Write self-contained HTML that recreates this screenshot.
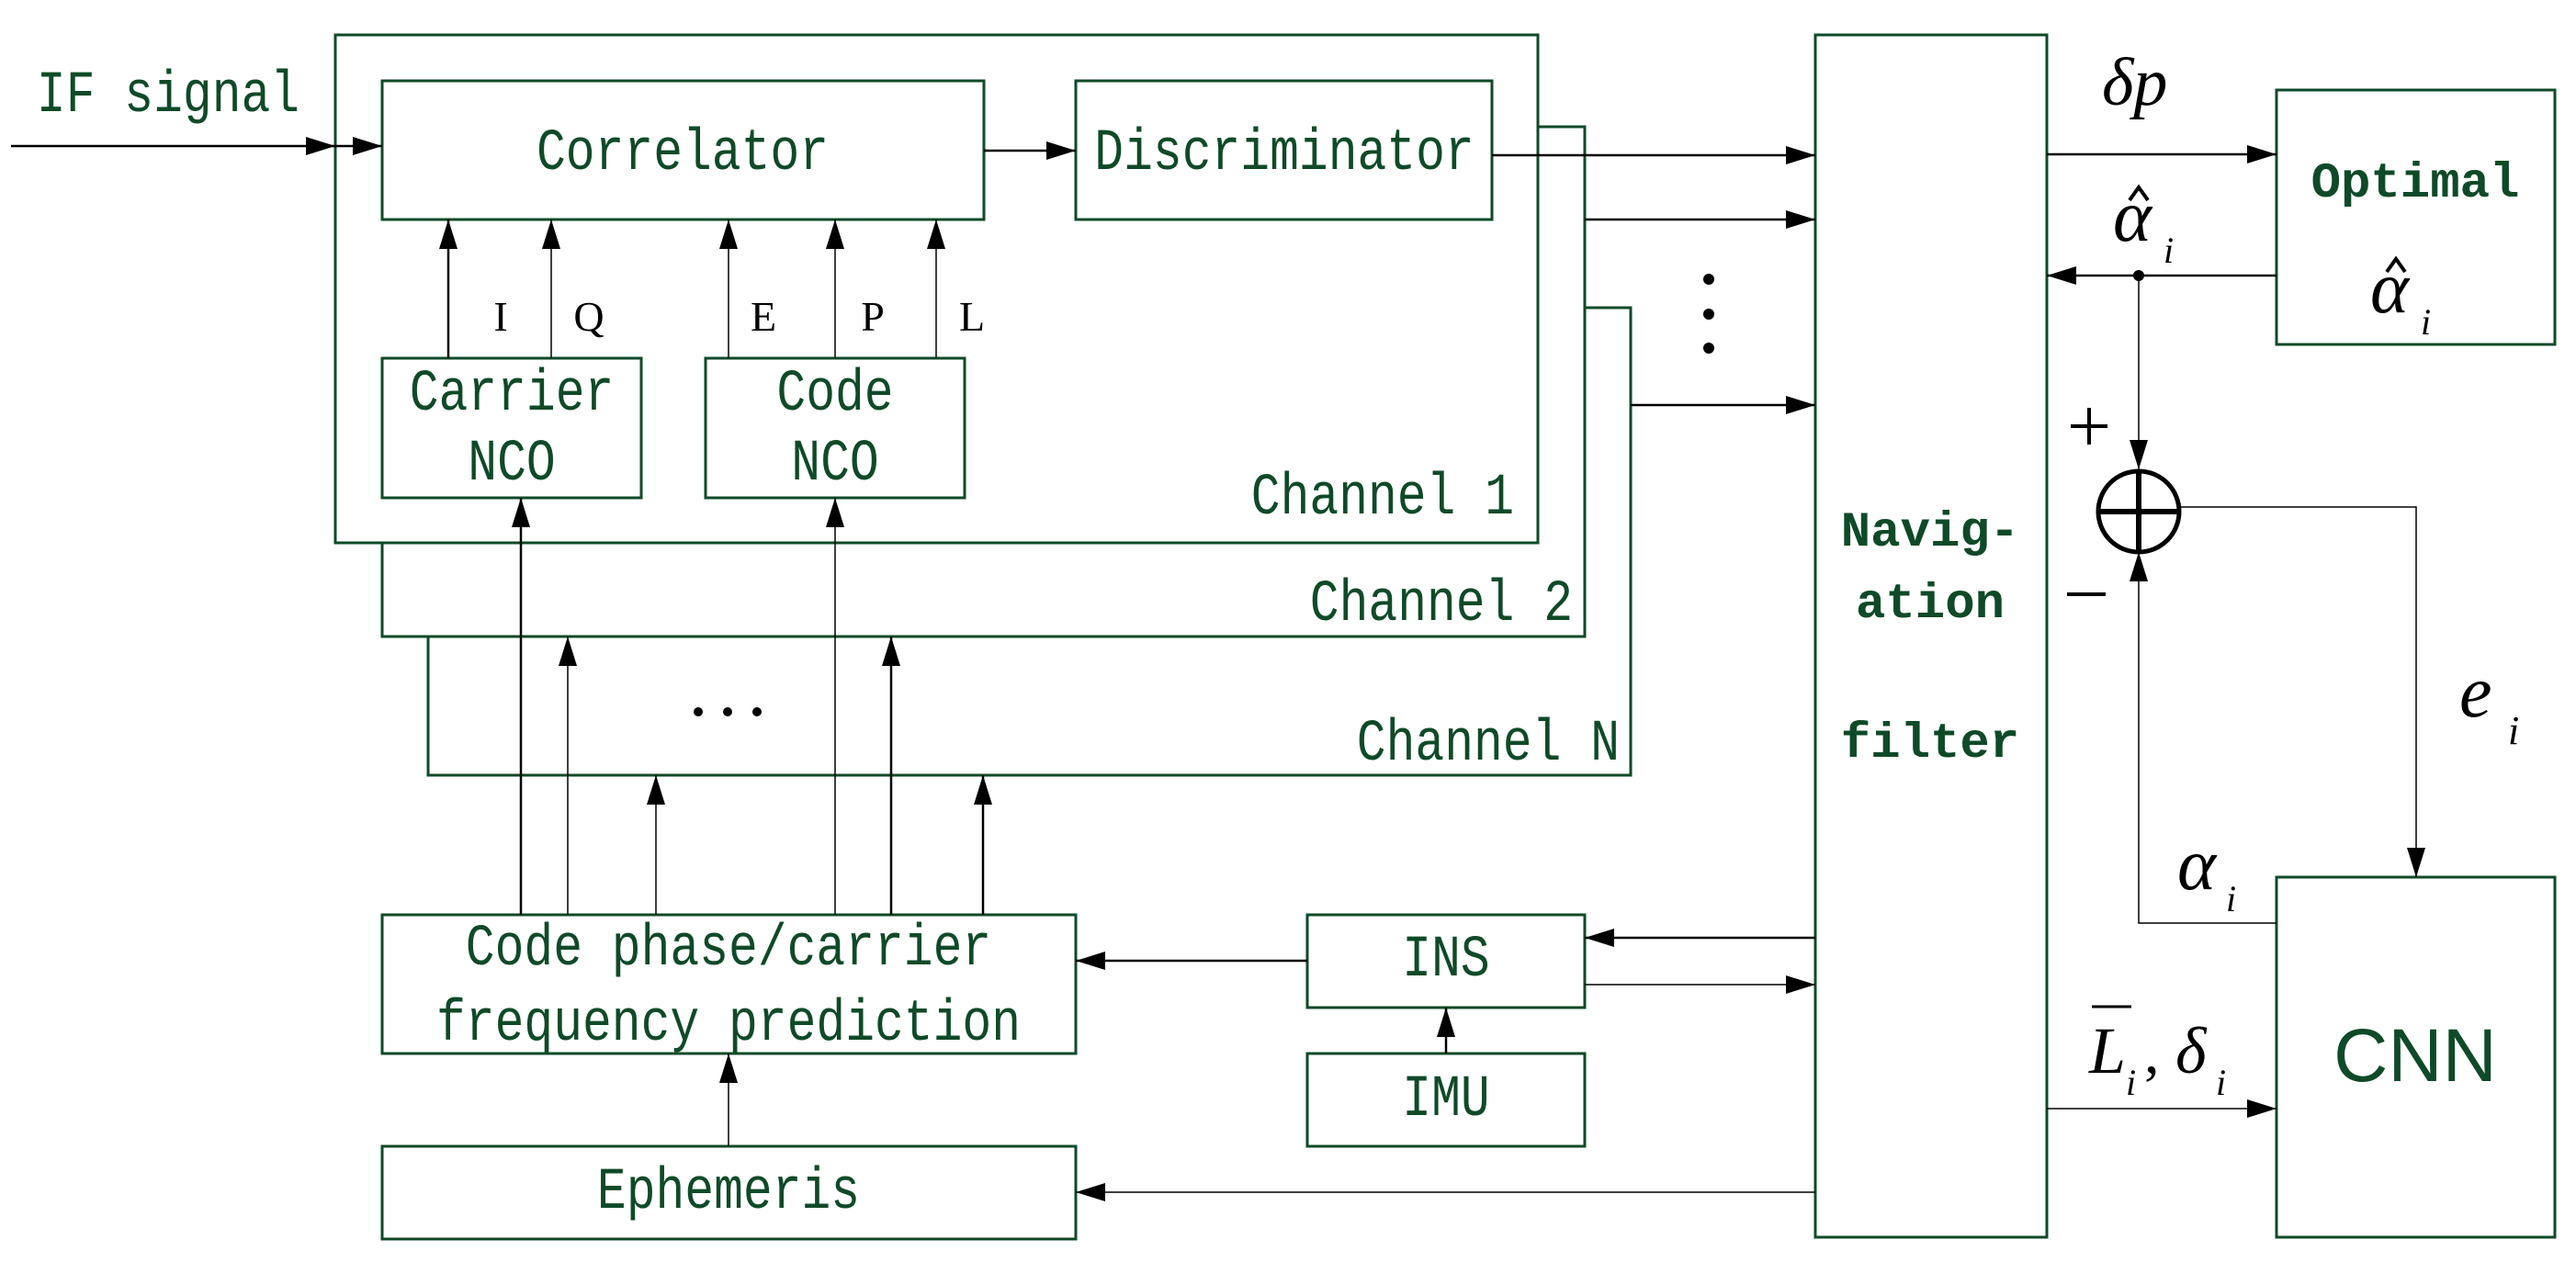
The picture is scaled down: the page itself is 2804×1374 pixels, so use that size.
<!DOCTYPE html>
<html><head><meta charset="utf-8"><style>
html,body{margin:0;padding:0;background:#fff}
svg{display:block}
.g{font-family:"Liberation Mono",monospace;fill:#0f4a28;font-size:53px}
.b{font-family:"Liberation Mono",monospace;fill:#0f4a28;font-size:54px;font-weight:bold}
.s{font-family:"Liberation Serif",serif;fill:#000;font-size:46px}
.m{font-family:"Liberation Serif",serif;font-style:italic;fill:#000}
</style></head><body>
<svg width="2804" height="1374" viewBox="0 0 2804 1374" xmlns="http://www.w3.org/2000/svg">
<defs>
<marker id="a" markerWidth="32" markerHeight="20" refX="32" refY="10" orient="auto" markerUnits="userSpaceOnUse"><path d="M0,0 L32,10 L0,20 z" fill="#000"/></marker>
</defs>
<g fill="none" stroke="#0f4a28" stroke-width="3">
<rect x="365" y="38" width="1309" height="553"/>
<path d="M1674,138 H1725 V693 H416 V591"/>
<path d="M1725,335 H1775 V844 H466 V693"/>
<rect x="416" y="88" width="655" height="151"/>
<rect x="1171" y="88" width="453" height="151"/>
<rect x="416" y="390" width="282" height="152"/>
<rect x="768" y="390" width="282" height="152"/>
<rect x="1976" y="38" width="252" height="1309"/>
<rect x="2478" y="98" width="303" height="277"/>
<rect x="2478" y="955" width="303" height="392"/>
<rect x="416" y="996" width="755" height="151"/>
<rect x="1423" y="996" width="302" height="101"/>
<rect x="1423" y="1147" width="302" height="101"/>
<rect x="416" y="1248" width="755" height="101"/>
</g>
<g stroke="#000" stroke-width="2.5" fill="none" marker-end="url(#a)">
<line x1="12" y1="159" x2="365" y2="159"/>
<line x1="365" y1="159" x2="416" y2="159"/>
<line x1="1071" y1="164" x2="1171" y2="164"/>
<line x1="1624" y1="169" x2="1976" y2="169"/>
<line x1="1725" y1="239" x2="1976" y2="239"/>
<line x1="1775" y1="441" x2="1976" y2="441"/>
<line x1="488" y1="390" x2="488" y2="239"/>
<line x1="600" y1="390" x2="600" y2="239" stroke-width="1.5"/>
<line x1="793" y1="390" x2="793" y2="239" stroke-width="1.5"/>
<line x1="909" y1="390" x2="909" y2="239" stroke-width="1.5"/>
<line x1="1019" y1="390" x2="1019" y2="239" stroke-width="1.5"/>
<line x1="567" y1="996" x2="567" y2="542"/>
<line x1="618" y1="996" x2="618" y2="693" stroke-width="1.5"/>
<line x1="714" y1="996" x2="714" y2="844" stroke-width="1.5"/>
<line x1="909" y1="996" x2="909" y2="542" stroke-width="1.5"/>
<line x1="970" y1="996" x2="970" y2="693"/>
<line x1="1070" y1="996" x2="1070" y2="844"/>
<line x1="1423" y1="1046" x2="1171" y2="1046"/>
<line x1="1976" y1="1021" x2="1725" y2="1021"/>
<line x1="1725" y1="1072" x2="1976" y2="1072" stroke-width="1.5"/>
<line x1="1574" y1="1147" x2="1574" y2="1097"/>
<line x1="793" y1="1248" x2="793" y2="1147" stroke-width="1.5"/>
<line x1="1976" y1="1298" x2="1171" y2="1298" stroke-width="1.5"/>
<line x1="2228" y1="168" x2="2478" y2="168"/>
<line x1="2478" y1="300" x2="2228" y2="300"/>
<line x1="2328" y1="300" x2="2328" y2="511" stroke-width="1.5"/>
<polyline points="2372,552 2630,552 2630,955" stroke-width="1.5"/>
<polyline points="2478,1005 2328,1005 2328,601" stroke-width="1.5"/>
<line x1="2228" y1="1207" x2="2478" y2="1207" stroke-width="1.5"/>
</g>
<circle cx="2328" cy="300" r="6" fill="#000"/>
<circle cx="2328" cy="557" r="44" fill="none" stroke="#000" stroke-width="5"/>
<line x1="2286" y1="557" x2="2370" y2="557" stroke="#000" stroke-width="6"/>
<line x1="2328" y1="515" x2="2328" y2="599" stroke="#000" stroke-width="6"/>
<g fill="#000">
<circle cx="1860" cy="304" r="6"/><circle cx="1860" cy="342" r="6"/><circle cx="1860" cy="379" r="6"/>
<circle cx="760" cy="775" r="5"/><circle cx="792" cy="775" r="5"/><circle cx="824" cy="775" r="5"/>
</g>
<g class="g" text-anchor="middle">
<text transform="translate(183,121) scale(1,1.2)">IF signal</text>
<text transform="translate(743,184) scale(1,1.2)">Correlator</text>
<text transform="translate(1398,184) scale(1,1.2)">Discriminator</text>
<text transform="translate(557,446) scale(1,1.2)">Carrier</text>
<text transform="translate(557,522) scale(1,1.2)">NCO</text>
<text transform="translate(909,446) scale(1,1.2)">Code</text>
<text transform="translate(909,522) scale(1,1.2)">NCO</text>
<text transform="translate(793,1050) scale(1,1.2)">Code phase/carrier</text>
<text transform="translate(793,1132) scale(1,1.2)">frequency prediction</text>
<text transform="translate(1574,1062) scale(1,1.2)">INS</text>
<text transform="translate(1574,1214) scale(1,1.2)">IMU</text>
<text transform="translate(793,1315) scale(1,1.2)">Ephemeris</text>
</g>
<g class="g" text-anchor="end">
<text transform="translate(1648,559) scale(1,1.2)">Channel 1</text>
<text transform="translate(1712,675) scale(1,1.2)">Channel 2</text>
<text transform="translate(1763,827) scale(1,1.2)">Channel N</text>
</g>
<g class="b" text-anchor="middle">
<text x="2101" y="594">Navig-</text>
<text x="2101" y="672">ation</text>
<text x="2101" y="824">filter</text>
<text x="2629" y="214">Optimal</text>
</g>
<text x="2629" y="1177" text-anchor="middle" font-family="Liberation Sans,sans-serif" font-size="82" fill="#0f4a28">CNN</text>
<g class="s" text-anchor="middle">
<text x="545" y="360">I</text><text x="641" y="360">Q</text>
<text x="831" y="360">E</text><text x="950" y="360">P</text><text x="1058" y="360">L</text>
</g>
<g class="m">
<text x="2288" y="114" font-size="74">δp</text>
<text x="2300" y="262" font-size="80">α</text><text x="2355" y="286" font-size="40">i</text>
<text x="2580" y="340" font-size="80">α</text><text x="2635" y="364" font-size="40">i</text>
<text x="2677" y="780" font-size="80">e</text><text x="2730" y="810" font-size="44">i</text>
<text x="2370" y="968" font-size="80">α</text><text x="2423" y="992" font-size="40">i</text>
<text x="2274" y="1168" font-size="72">L</text><text x="2314" y="1192" font-size="40">i</text>
<text x="2334" y="1168" font-size="66" font-style="normal">,</text>
<text x="2368" y="1168" font-size="72">δ</text><text x="2412" y="1192" font-size="40">i</text>
</g>
<g fill="none" stroke="#000" stroke-width="4">
<polyline points="2318,218 2328,204 2338,218"/>
<polyline points="2598,296 2608,282 2618,296"/>
</g>
<line x1="2277" y1="1096" x2="2320" y2="1096" stroke="#000" stroke-width="3"/>
<line x1="2254" y1="464" x2="2294" y2="464" stroke="#000" stroke-width="4"/>
<line x1="2274" y1="444" x2="2274" y2="484" stroke="#000" stroke-width="4"/>
<line x1="2250" y1="647" x2="2292" y2="647" stroke="#000" stroke-width="4"/>
</svg>
</body></html>
